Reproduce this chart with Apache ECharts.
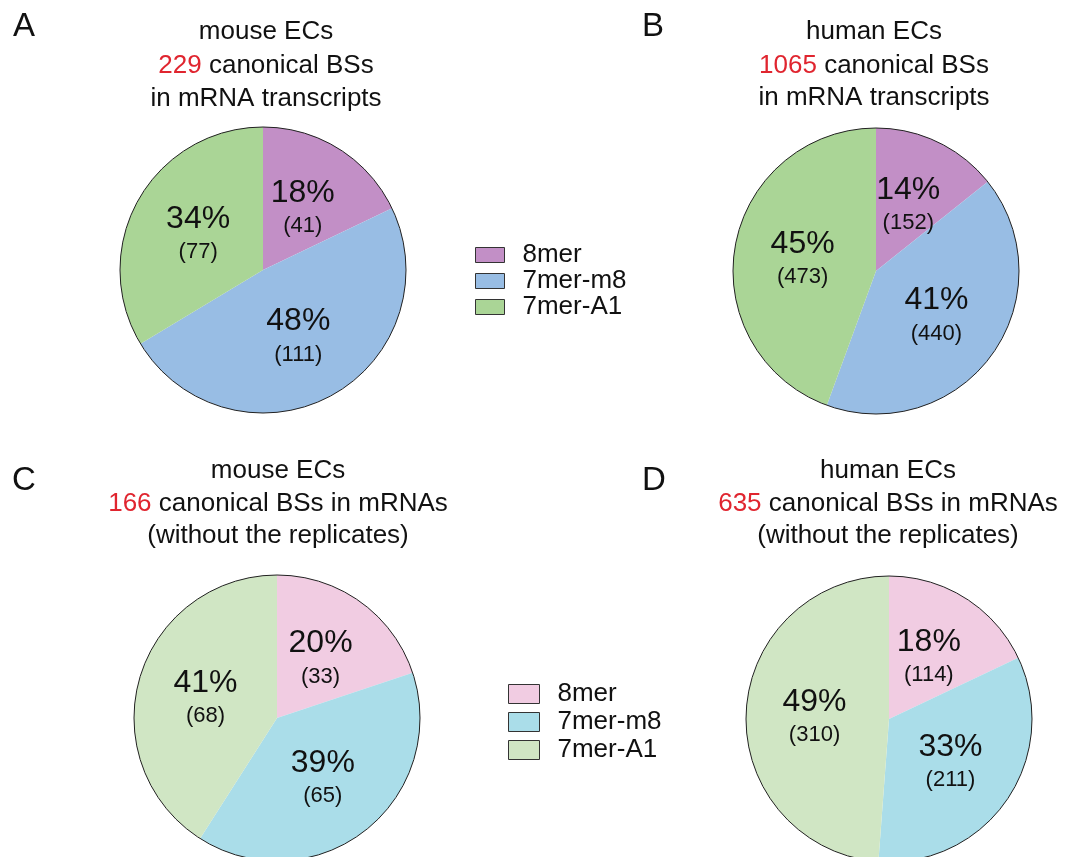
<!DOCTYPE html>
<html>
<head>
<meta charset="utf-8">
<script src="https://cdn.jsdelivr.net/npm/echarts@6/dist/echarts.min.js"></script>
<style>
html,body{margin:0;padding:0;background:#fff;}
#chart{width:1071px;height:857px;}
</style>
</head>
<body>
<div id="chart"></div>
<script>
// ---- data ----
const categories = ['8mer', '7mer-m8', '7mer-A1'];
const mouseAll = [41, 111, 77];
const humanAll = [152, 440, 473];
const mouseUnique = [33, 65, 68];
const humanUnique = [114, 211, 310];
const totals = [229, 1065, 166, 635];
const panelLetters = ['A', 'B', 'C', 'D'];
const speciesTitles = ['mouse ECs', 'human ECs', 'mouse ECs', 'human ECs'];
const line2Suffix = [' canonical BSs', ' canonical BSs', ' canonical BSs in mRNAs', ' canonical BSs in mRNAs'];
const line3Text = ['in mRNA transcripts', 'in mRNA transcripts', '(without the replicates)', '(without the replicates)'];

// ---- styles ----
const FONT = '"Liberation Sans", Arial, sans-serif';
const colorsTop = ['#c28fc6', '#98bde4', '#aad596'];
const colorsBottom = ['#f1cce2', '#aadde9', '#d0e6c4'];
const pieCenters = [[263, 270], [876, 271], [277, 718], [889, 719]];
const R = 143;
const titleX = [266, 874, 278, 888];
const titleBaselines = [[41, 75, 108], [41, 75, 107], [480, 513, 545], [480, 513, 545]];
const letterPos = [[24, 27], [653, 27], [24, 481], [654, 481]];

const datasets = [mouseAll, humanAll, mouseUnique, humanUnique];
const palettes = [colorsTop, colorsTop, colorsBottom, colorsBottom];

const series = [];
datasets.forEach((vals, i) => {
  series.push({
    type: 'pie',
    name: 'pie' + i,
    center: pieCenters[i],
    radius: [0, R],
    startAngle: 90,
    clockwise: true,
    percentPrecision: 0,
    avoidLabelOverlap: false,
    emphasis: {disabled: true},
    silent: true,
    itemStyle: {borderWidth: 0},
    label: {
      show: true,
      position: 'inside',
      formatter: '{p|{d}%}\n{c|({c})}',
      rich: {
        p: {fontSize: 32, fontFamily: FONT, color: '#111', lineHeight: 38, align: 'center'},
        c: {fontSize: 22, fontFamily: FONT, color: '#111', lineHeight: 28, align: 'center'}
      }
    },
    labelLine: {show: false},
    data: categories.map((c, k) => ({name: c, value: vals[k], itemStyle: {color: palettes[i][k]}}))
  });
  // outline ring
  series.push({
    type: 'pie',
    name: 'outline' + i,
    center: pieCenters[i],
    radius: [0, R],
    silent: true,
    emphasis: {disabled: true},
    label: {show: false},
    labelLine: {show: false},
    z: 3,
    itemStyle: {color: 'rgba(0,0,0,0)', borderColor: '#222', borderWidth: 1},
    data: [{name: '', value: 1}]
  });
});

const graphics = [];
for (let i = 0; i < 4; i++) {
  graphics.push({
    type: 'text', x: letterPos[i][0], y: letterPos[i][1],
    style: {text: panelLetters[i], font: '33px ' + FONT, fill: '#111', align: 'center', verticalAlign: 'middle'}
  });
  const b = titleBaselines[i];
  graphics.push({
    type: 'text', x: titleX[i], y: b[0] - 9,
    style: {text: speciesTitles[i], font: '26px ' + FONT, fill: '#111', align: 'center', verticalAlign: 'middle'}
  });
  graphics.push({
    type: 'text', x: titleX[i], y: b[1] - 9,
    style: {
      text: '{r|' + totals[i] + '}{k|' + line2Suffix[i] + '}',
      align: 'center', verticalAlign: 'middle',
      rich: {
        r: {fontSize: 26, fontFamily: FONT, fill: '#e0252f', color: '#e0252f'},
        k: {fontSize: 26, fontFamily: FONT, fill: '#111', color: '#111'}
      }
    }
  });
  graphics.push({
    type: 'text', x: titleX[i], y: b[2] - 9,
    style: {text: line3Text[i], font: '26px ' + FONT, fill: '#111', align: 'center', verticalAlign: 'middle'}
  });
}

function legendCfg(colors, left, top, w, h, gap) {
  return {
    orient: 'vertical', left: left, top: top,
    padding: 0,
    itemWidth: w, itemHeight: h, itemGap: gap,
    icon: 'rect',
    selectedMode: false,
    itemStyle: {borderColor: '#333', borderWidth: 1},
    textStyle: {fontSize: 26, fontFamily: FONT, color: '#111', padding: [0, 0, 0, 13]},
    data: categories.map((c, k) => ({name: c, itemStyle: {color: colors[k], borderColor: '#333', borderWidth: 1}}))
  };
}

const chart = echarts.init(document.getElementById('chart'), null, {renderer: 'canvas'});
chart.setOption({
  backgroundColor: '#fff',
  animation: false,
  legend: [legendCfg(colorsTop, 475, 242, 29, 15, 0), legendCfg(colorsBottom, 508, 681, 31, 19, 2)],
  graphic: graphics,
  series: series
});
</script>
</body>
</html>
